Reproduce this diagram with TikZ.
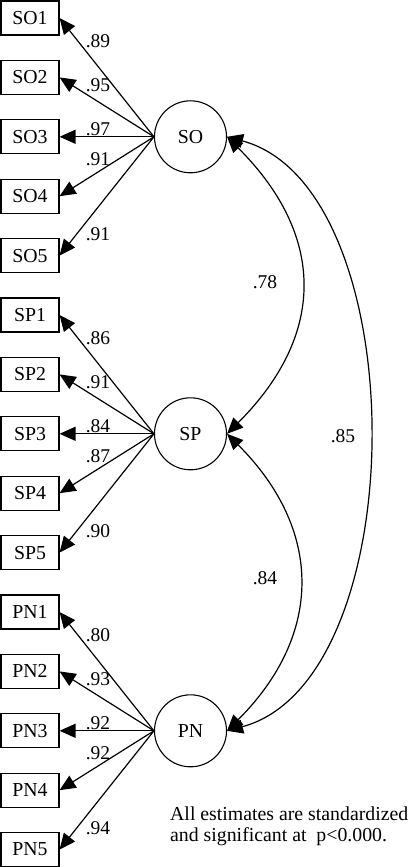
\documentclass[tikz,border=0pt]{standalone}
\usepackage{fontspec}
\setmainfont{Liberation Serif}
\usepackage{tikz}
\usetikzlibrary{
  arrows.meta,
  positioning
}

\begin{document}
\begin{tikzpicture}[
  x=1pt, y=1pt,
  ind/.style={rectangle, draw, line width=1.1pt, minimum width=58pt, minimum height=34pt, inner sep=0pt, font=\fontsize{19.8}{22}\selectfont},
  lat/.style={circle, draw, line width=1.1pt, minimum size=72pt, inner sep=0pt, font=\fontsize{19.8}{22}\selectfont},
  lab/.style={inner sep=0pt, font=\fontsize{19.5}{22}\selectfont},
  arr/.style={-{Triangle[length=16pt,width=14pt]}, line width=1.2pt},
  cov/.style={{Triangle[length=16pt,width=14pt]}-{Triangle[length=16pt,width=14pt]}, line width=1.2pt}
]
  \useasboundingbox (0,0) rectangle (409,-867);

  \node[lat] (SO) at (190.5,-136.8) {SO};
  \node[lat] (SP) at (190.5,-433.8) {SP};
  \node[lat] (PN) at (190.5,-730.8) {PN};

  \node[ind] (SO1) at (30,-18) {SO1};
  \node[ind] (SO2) at (30,-77.4) {SO2};
  \node[ind] (SO3) at (30,-136.8) {SO3};
  \node[ind] (SO4) at (30,-196.2) {SO4};
  \node[ind] (SO5) at (30,-255.6) {SO5};
  \node[ind] (SP1) at (30,-315) {SP1};
  \node[ind] (SP2) at (30,-374.4) {SP2};
  \node[ind] (SP3) at (30,-433.8) {SP3};
  \node[ind] (SP4) at (30,-493.2) {SP4};
  \node[ind] (SP5) at (30,-552.6) {SP5};
  \node[ind] (PN1) at (30,-612) {PN1};
  \node[ind] (PN2) at (30,-671.4) {PN2};
  \node[ind] (PN3) at (30,-730.8) {PN3};
  \node[ind] (PN4) at (30,-790.2) {PN4};
  \node[ind] (PN5) at (30,-849.6) {PN5};

  \draw[arr] (SO.west) -- (SO1.east);
  \draw[arr] (SO.west) -- (SO2.east);
  \draw[arr] (SO.west) -- (SO3.east);
  \draw[arr] (SO.west) -- (SO4.east);
  \draw[arr] (SO.west) -- (SO5.east);
  \draw[arr] (SP.west) -- (SP1.east);
  \draw[arr] (SP.west) -- (SP2.east);
  \draw[arr] (SP.west) -- (SP3.east);
  \draw[arr] (SP.west) -- (SP4.east);
  \draw[arr] (SP.west) -- (SP5.east);
  \draw[arr] (PN.west) -- (PN1.east);
  \draw[arr] (PN.west) -- (PN2.east);
  \draw[arr] (PN.west) -- (PN3.east);
  \draw[arr] (PN.west) -- (PN4.east);
  \draw[arr] (PN.west) -- (PN5.east);

  \node[lab] (so1v) at (98,-41) {.89};
  \node[lab] (so2v) at (98,-85.4) {.95};
  \node[lab] (so3v) at (98,-128.8) {.97};
  \node[lab] (so4v) at (98,-159.2) {.91};
  \node[lab] (so5v) at (98,-234.6) {.91};
  \node[lab] (sp1v) at (98,-338) {.86};
  \node[lab] (sp2v) at (98,-382.4) {.91};
  \node[lab] (sp3v) at (98,-425.8) {.84};
  \node[lab] (sp4v) at (98,-456.2) {.87};
  \node[lab] (sp5v) at (98,-531.6) {.90};
  \node[lab] (pn1v) at (98,-635) {.80};
  \node[lab] (pn2v) at (98,-679.4) {.93};
  \node[lab] (pn3v) at (98,-722.8) {.92};
  \node[lab] (pn4v) at (98,-753.2) {.92};
  \node[lab] (pn5v) at (98,-828.6) {.94};

  \draw[cov] (SO.east) to[out=-45, in=45, distance=140] (SP.east);
  \draw[cov] (SP.east) to[out=-45, in=45, distance=136] (PN.east);
  \draw[cov] (SO.east) to[out=-15, in=15, distance=195] (PN.east);

  \node[lab] (sosp) at (265,-282) {.78};
  \node[lab] (sppn) at (265,-578) {.84};
  \node[lab] (sopn) at (343,-436) {.85};

  \node[lab, anchor=north west, align=left, font=\fontsize{19.8}{20.5}\selectfont] (note) at (170,-807)
    {All estimates are standardized\\and significant at\ \ p<0.000.};
\end{tikzpicture}
\end{document}
